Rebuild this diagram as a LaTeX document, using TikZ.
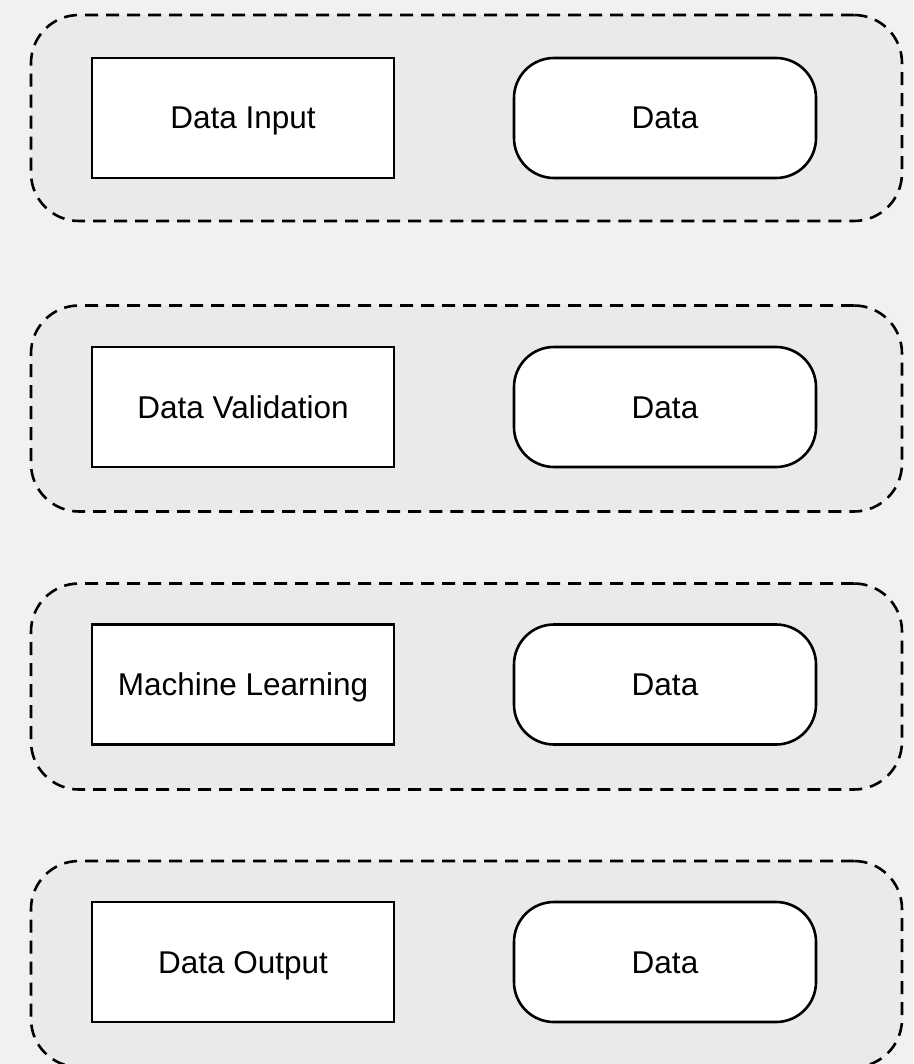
\documentclass[tikz,border=0pt]{standalone}
\usepackage{fontspec}
\setmainfont{Liberation Sans}
\definecolor{pagebg}{RGB}{241,241,241}
\definecolor{groupbg}{RGB}{234,234,234}
\tikzset{
  group/.style={draw=black, fill=groupbg, line width=2.6pt,
    dash pattern=on 13pt off 8pt, rounded corners=48pt,
    minimum width=871pt, minimum height=206pt, inner sep=0pt},
  stage/.style={draw=black, fill=white, line width=2.6pt,
    minimum width=302pt, minimum height=120pt, inner sep=0pt,
    text height=22pt, text depth=0pt,
    font=\fontsize{31.5}{37}\selectfont},
  store/.style={stage, rounded corners=40pt}
}
\begin{document}
\begin{tikzpicture}[x=1pt, y=-1pt]
  \useasboundingbox (0,0) rectangle (913,1064);
  \fill[pagebg] (0,0) rectangle (913,1064);
  \clip (0,0) rectangle (913,1064);

  % dashed groups, one per pipeline step
  \node[group] (g1) at (466.5,118) {};
  \node[group] (g2) at (466.5,408.5) {};
  \node[group] (g3) at (466.5,686.5) {};
  \node[group] (g4) at (466.5,964) {};

  % step boxes
  \node[stage] (s1) at (243,118) {Data Input};
  \node[stage] (s2) at (243,407) {Data Validation};
  \node[stage] (s3) at (243,684.5) {Machine Learning};
  \node[stage] (s4) at (243,962) {Data Output};

  % data boxes
  \node[store] (d1) at (665,118) {Data};
  \node[store] (d2) at (665,407) {Data};
  \node[store] (d3) at (665,684.5) {Data};
  \node[store] (d4) at (665,962) {Data};
\end{tikzpicture}
\end{document}
